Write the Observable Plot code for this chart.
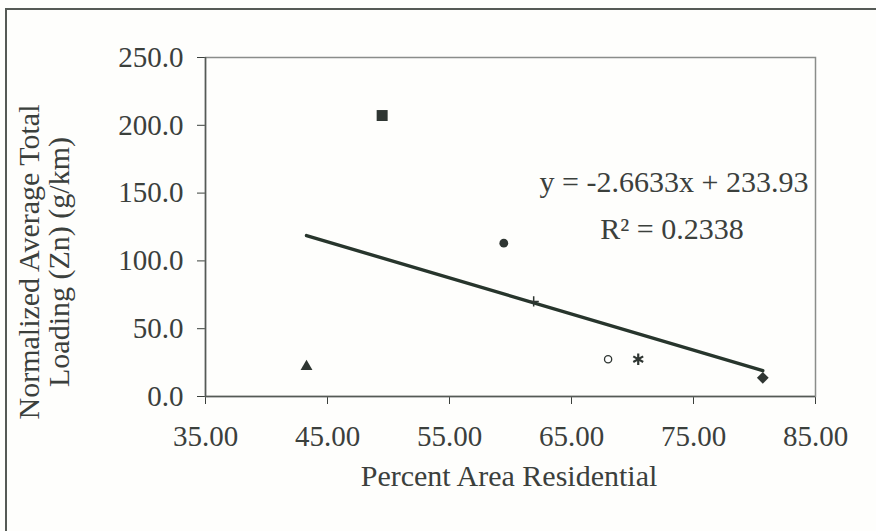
<!DOCTYPE html>
<html>
<head>
<meta charset="utf-8">
<script src="https://cdn.jsdelivr.net/npm/d3@7"></script>
<script src="https://cdn.jsdelivr.net/npm/@observablehq/plot@0.6"></script>
<style>
  html, body { margin: 0; padding: 0; background: #ffffff; }
  #wrap { position: relative; width: 876px; height: 531px; overflow: hidden; background: #fefefc; }
  #border { position: absolute; left: 5px; top: 8px; width: 900px; height: 600px;
            border-left: 2px solid #555a55; border-top: 2px solid #555a55; }
  #chart { position: absolute; left: 0; top: 0; }
</style>
</head>
<body>
<div id="wrap"><div id="border"></div><div id="chart"></div></div>
<script>
// Data
const pctResidential = [80.68, 49.48, 43.28, 59.45, 68.0, 70.47, 61.9];
const znLoading      = [13.8, 207.2, 22.1, 113.1, 27.5, 27.5, 70.1];
const xTicks = [35, 45, 55, 65, 75, 85];
const yTicks = [0, 50, 100, 150, 200, 250];
const slope = -2.6633;
const intercept = 233.93;
const rSquared = 0.2338;
const xLabel = "Percent Area Residential";
const yLabel = "Normalized Average Total\nLoading (Zn) (g/km)";
const eqLabel = "y = -2.6633x + 233.93";
const r2Label = "R\u00B2 = 0.2338";

// Marker styles per series (Excel default marker order)
const markerStyles = [
  {symbol: "square", rotate: 45, r: 4.7, fill: "#2f3632", stroke: "none"},
  {symbol: "square", r: 6.2, fill: "#2f3632", stroke: "none"},
  {symbol: "triangle", r: 4.4, fill: "#2f3632", stroke: "none"},
  {symbol: "circle", r: 4.4, fill: "#2f3632", stroke: "none"},
  {symbol: "circle", r: 3.6, fill: "#ffffff", stroke: "#2f3632", strokeWidth: 1.3},
  {symbol: "asterisk", r: 5.4, fill: "none", stroke: "#2f3632", strokeWidth: 2.2},
  {symbol: "plus", r: 3.4, fill: "none", stroke: "#2f3632", strokeWidth: 1.5}
];

const points = pctResidential.map((x, i) => ({x, y: znLoading[i], i}));
const xMin = d3.min(pctResidential), xMax = d3.max(pctResidential);
const trend = [xMin, xMax].map(x => ({x, y: slope * x + intercept}));

const textColor = "#3b403c";
const tickFont = 29;
const titleFont = 30;

const chart = Plot.plot({
  width: 876,
  height: 531,
  marginLeft: 205,
  marginRight: 61,
  marginTop: 57,
  marginBottom: 135,
  style: {
    fontFamily: "'Liberation Serif', 'Times New Roman', serif",
    fontSize: tickFont + "px",
    color: textColor,
    background: "transparent",
    overflow: "visible"
  },
  x: {domain: [35, 85], ticks: xTicks, tickFormat: d3.format(".2f"), tickSize: 8, tickPadding: 21, label: null},
  y: {domain: [0, 250], ticks: yTicks, tickFormat: d3.format(".1f"), tickSize: 8, tickPadding: 14, label: null},
  marks: [
    Plot.frame({stroke: "#8a8d8a", strokeWidth: 1.5}),
    Plot.ruleX([35], {stroke: "#555a55", strokeWidth: 1.5}),
    Plot.ruleY([0], {stroke: "#555a55", strokeWidth: 1.5}),
    Plot.line(trend, {x: "x", y: "y", stroke: "#27352c", strokeWidth: 3.4}),
    ...markerStyles.map((s, k) =>
      Plot.dot(points, {filter: d => d.i === k, x: "x", y: "y", ...s})
    ),
    Plot.text([eqLabel], {frameAnchor: "top-left", textAnchor: "middle", dx: 468.5, dy: 113.4, fontSize: titleFont, fill: textColor}),
    Plot.text([r2Label], {frameAnchor: "top-left", textAnchor: "middle", dx: 466.5, dy: 160.4, fontSize: titleFont, fill: textColor}),
    Plot.text([xLabel], {frameAnchor: "bottom", textAnchor: "middle", dx: -1.5, dy: 89.4, fontSize: titleFont, fill: textColor}),
    Plot.text([yLabel], {frameAnchor: "left", textAnchor: "middle", rotate: -90, lineHeight: 1.0, dx: -161.6, dy: 35, fontSize: titleFont, fill: textColor})
  ]
});
document.getElementById("chart").appendChild(chart);
</script>
</body>
</html>
